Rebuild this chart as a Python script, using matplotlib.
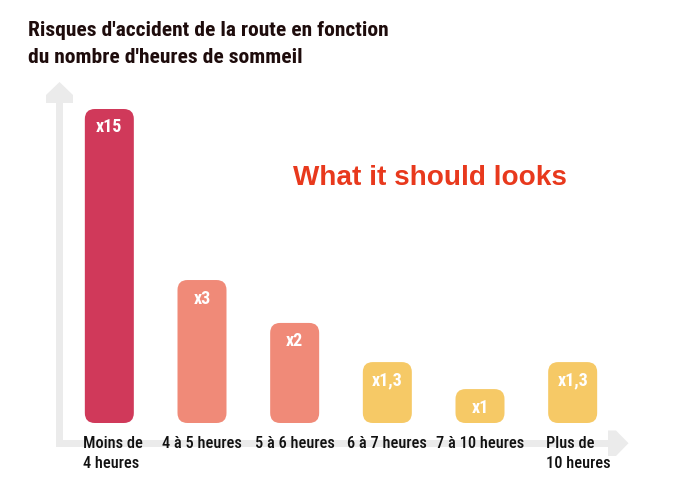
import matplotlib
matplotlib.use("Agg")
import matplotlib.pyplot as plt
from matplotlib import font_manager as fm
from matplotlib.font_manager import FontProperties
from matplotlib.patches import FancyBboxPatch, Polygon, Rectangle

# ---- data ----
categories = ["Moins de\n4 heures", "4 à 5 heures", "5 à 6 heures",
              "6 à 7 heures", "7 à 10 heures", "Plus de\n10 heures"]
value_labels = ["x15", "x3", "x2", "x1,3", "x1", "x1,3"]
# displayed bar heights (in "x15 = 15" units)
heights = [15, 6.83, 4.78, 2.91, 1.62, 2.91]
colors = ["#D0395A", "#F08A78", "#F08A78", "#F6C966", "#F6C966", "#F6C966"]
title_lines = ["Risques d'accident de la route en fonction",
               "du nombre d'heures de sommeil"]
note = "What it should looks"


# ---- pick a condensed font if one is installed ----
def _wnum(w):
    if isinstance(w, (int, float)):
        return w
    return {"ultralight": 100, "light": 300, "normal": 400, "regular": 400,
            "book": 400, "medium": 500, "roman": 400, "semibold": 600,
            "demibold": 600, "demi": 600, "bold": 700, "heavy": 800,
            "extra bold": 800, "black": 900}.get(str(w).lower(), 400)


def _is_cond(f):
    s = str(f.stretch).lower()
    return ("condensed" in s) or ("Condensed" in f.name) or ("Narrow" in f.name) \
        or ("condensed" in f.fname.lower()) or ("narrow" in f.fname.lower())


cands = [f for f in fm.fontManager.ttflist if _is_cond(f) and f.style == "normal"
         and f.fname.lower().endswith((".ttf", ".otf"))]
stretch_rank = {"extra-condensed": 1, "condensed": 0, "semi-condensed": 2,
                "ultra-condensed": 3}
fam_rank = ["Roboto", "Noto Sans", "Open Sans", "Liberation Sans Narrow",
            "DejaVu Sans", "Lato", "Inter"]


def _rank(f):
    fr = next((i for i, n in enumerate(fam_rank) if f.name.startswith(n)), 99)
    return (stretch_rank.get(str(f.stretch).lower(), 0), fr)


def pick(weight):
    if not cands:
        return FontProperties(family="DejaVu Sans", weight=weight)
    best = min(cands, key=lambda f: (_rank(f), abs(_wnum(f.weight) - weight)))
    same = [f for f in cands if f.name == best.name and f.stretch == best.stretch]
    f = min(same, key=lambda f: abs(_wnum(f.weight) - weight))
    return FontProperties(fname=f.fname)


fp_bold = pick(700)
fp_med = pick(500)

W, H = 690, 491
fig = plt.figure(figsize=(W / 100, H / 100), dpi=100)
fig.patch.set_facecolor("white")
renderer = fig.canvas.get_renderer()


def fit(t, target_w, max_size):
    t.set_fontsize(10)
    w = t.get_window_extent(renderer).width
    t.set_fontsize(min(max_size, 10 * target_w / w))


# overlay for decoration (pixel coordinates)
deco = fig.add_axes([0, 0, 1, 1])
deco.set_xlim(0, W)
deco.set_ylim(H, 0)
deco.axis("off")
grey = "#EBEBEB"
deco.add_patch(Rectangle((56, 100), 7, 346.5, color=grey, lw=0))
deco.add_patch(Polygon([(59.5, 82), (73, 95), (73, 103), (46, 103), (46, 95)],
                       closed=True, color=grey, lw=0))
deco.add_patch(Rectangle((56, 440), 556, 6.5, color=grey, lw=0))
deco.add_patch(Polygon([(628.5, 443.2), (616, 430.5), (608, 430.5), (608, 456),
                        (616, 456)], closed=True, color=grey, lw=0))

# title
t1 = deco.text(28, 36, title_lines[0], fontproperties=fp_bold, color="#1E0C0C",
               va="baseline", ha="left")
fit(t1, 360, 16)
t2 = deco.text(28, 63, title_lines[1], fontproperties=fp_bold, color="#1E0C0C",
               va="baseline", ha="left", fontsize=t1.get_fontsize())
tn = deco.text(293, 185, note, fontweight="bold", color="#E8391D",
               family=["Liberation Sans", "DejaVu Sans"], va="baseline", ha="left")
fit(tn, 273, 22)

# main axes
left_px, right_px, base_px, top_px = 63, 619, 423, 83
ax = fig.add_axes([left_px / W, (H - base_px) / H,
                   (right_px - left_px) / W, (base_px - top_px) / H])
ax.patch.set_alpha(0)
n = len(categories)
ax.set_xlim(-0.5, n - 0.5)
ymax = 15 * (base_px - top_px) / 314
ax.set_ylim(0, ymax)
ax.axis("off")

xu_per_px = n / (right_px - left_px)
yu_per_px = ymax / (base_px - top_px)
aspect = yu_per_px / xu_per_px
bw = 49 * xu_per_px
r = 10 * xu_per_px

# value label size from "x15" width
probe = deco.text(0, 0, "x15", fontproperties=fp_bold)
fit(probe, 27, 13)
vsize = probe.get_fontsize()
probe.remove()
probe = deco.text(0, 0, "7 à 10 heures", fontproperties=fp_med)
fit(probe, 88, 14)
csize = probe.get_fontsize()
probe.remove()

for i, (h, c, lab) in enumerate(zip(heights, colors, value_labels)):
    p = FancyBboxPatch((i - bw / 2, 0), bw, h,
                       boxstyle=f"round,pad=0,rounding_size={r}",
                       mutation_aspect=aspect, fc=c, ec="none")
    ax.add_patch(p)
    ax.annotate(lab, (i, h), xytext=(0, -23.5 * 0.72), textcoords="offset points",
                ha="center", va="baseline", color="white", fontproperties=fp_bold,
                fontsize=vsize)

for i, cat in enumerate(categories):
    lines = cat.split("\n")
    multi = len(lines) > 1
    for k, line in enumerate(lines):
        xy = (i - bw / 2, 0) if multi else (i, 0)
        ax.annotate(line, xy, xytext=(-2 * 0.72 if multi else 0, -(24.5 + 21 * k) * 0.72),
                    textcoords="offset points", ha="left" if multi else "center",
                    va="baseline", color="#111111", fontproperties=fp_med,
                    fontsize=csize)

fig.savefig("out.png", dpi=100)
